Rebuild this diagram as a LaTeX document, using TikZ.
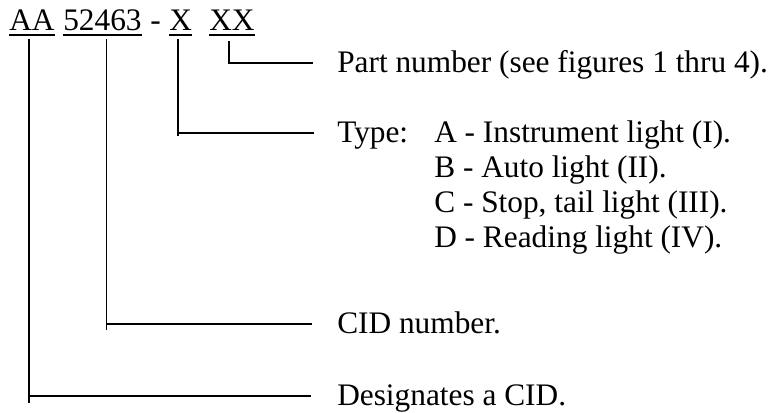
\documentclass[tikz,border=0pt]{standalone}
\usepackage{fontspec}
\setmainfont{Liberation Serif}
\usetikzlibrary{calc}
\begin{document}
\begin{tikzpicture}[x=0.75pt,y=-0.75pt,
  txt/.style={inner sep=0pt, anchor=base west, font=\fontsize{23.5}{28}\selectfont, text height=15pt, text depth=0pt},
  lead/.style={line width=1.4pt},
  uline/.style={line width=0.9pt}]
\useasboundingbox (0,0) rectangle (779,413);
% header
\node[txt] (hAA) at (9,31) {AA};
\node[txt] (h5) at (63,31) {52463};
\node[txt] (hd) at (150,31) {-};
\node[txt] (hX) at (169,31) {X};
\node[txt] (hXX) at (209,31) {XX};
\foreach \n in {hAA,h5,hX,hXX}{
  \draw[uline] ([yshift=-3pt]\n.base west) -- ([yshift=-3pt]\n.base east);
}
% labels
\node[txt] (lPart) at (337,73) {Part number (see figures 1 thru 4).};
\node[txt] (lType) at (337,143) {Type:};
\node[txt] (lA) at (434,143) {A - Instrument light (I).};
\node[txt] (lB) at (434,178) {B - Auto light (II).};
\node[txt] (lC) at (434,213) {C - Stop, tail light (III).};
\node[txt] (lD) at (434,248) {D - Reading light (IV).};
\node[txt] (lCID) at (337,334) {CID number.};
\node[txt] (lDes) at (337,406) {Designates a CID.};
% connectors
\coordinate (aTop) at ($(hAA.south)+(-3,8)$);
\coordinate (aCor) at (aTop |- lDes.west);
\draw[lead] (aTop) -- ($(aCor)+(0,7)$);
\draw[lead] (aCor) -- ($(lDes.west)+(-26,0)$);

\coordinate (bTop) at ($(h5.south)+(4,8)$);
\coordinate (bCor) at (bTop |- lCID.west);
\draw[lead] (bTop) -- ($(bCor)+(0,6)$);
\draw[lead] (bCor) -- ($(lCID.west)+(-25,0)$);

\coordinate (cTop) at ($(hX.south)+(-3,8)$);
\coordinate (cCor) at (cTop |- lType.west);
\draw[lead] (cTop) -- ($(cCor)+(0,3)$);
\draw[lead] (cCor) -- ($(lType.west)+(-23,0)$);

\coordinate (dTop) at ($(hXX.south)+(-3,10)$);
\coordinate (dCor) at (dTop |- lPart.west);
\draw[lead] (dTop) -- (dCor) -- ($(lPart.west)+(-24,0)$);
\end{tikzpicture}
\end{document}
